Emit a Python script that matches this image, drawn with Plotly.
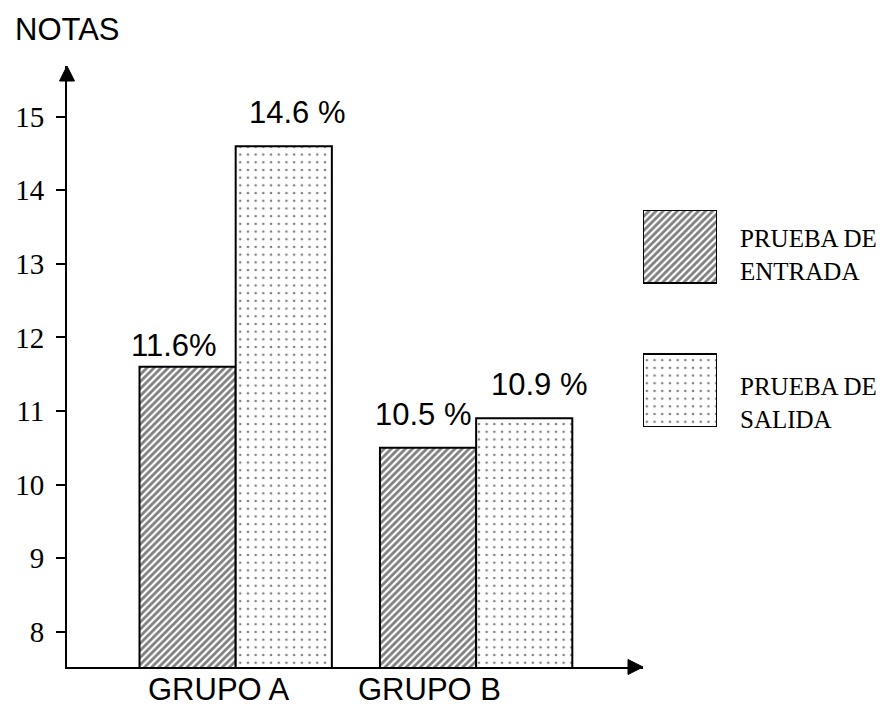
import plotly.graph_objects as go

# ---- data -------------------------------------------------------------
groups = ["GRUPO A", "GRUPO B"]
series_names = ["PRUEBA DE<br>ENTRADA", "PRUEBA DE<br>SALIDA"]
entrada = [11.6, 10.5]
salida = [14.6, 10.9]
value_labels_entrada = ["11.6%", "10.5 %"]
value_labels_salida = ["14.6 %", "10.9 %"]
y_ticks = [8, 9, 10, 11, 12, 13, 14, 15]

# ---- geometry / style ---------------------------------------------------
W, H = 887, 706
BAR_W = 0.4
Y_RANGE = [7.52, 15.69]
X_RANGE = [-0.7015, 1.694]
SANS = "Liberation Sans"
SERIF = "Liberation Serif"
HATCH = dict(shape="/", fgcolor="black", bgcolor="white", size=5, solidity=0.55)
DOTS = dict(shape=".", fgcolor="black", bgcolor="white", size=7.7, solidity=0.09)
OUTLINE = dict(color="black", width=2)

x_idx = list(range(len(groups)))

fig = go.Figure()

# main bars
fig.add_trace(go.Bar(x=x_idx, y=entrada, width=BAR_W, offset=-BAR_W,
                     marker=dict(color="white", pattern=HATCH, line=OUTLINE),
                     name=series_names[0], showlegend=False, hoverinfo="y"))
fig.add_trace(go.Bar(x=x_idx, y=salida, width=BAR_W, offset=0,
                     marker=dict(color="white", pattern=DOTS, line=OUTLINE),
                     name=series_names[1], showlegend=False, hoverinfo="y"))

# legend swatches drawn as bars on their own small axes
fig.add_trace(go.Bar(x=[1], y=[1], orientation="h", width=0.507, xaxis="x3", yaxis="y3",
                     marker=dict(color="white", pattern=HATCH, line=OUTLINE),
                     showlegend=False, hoverinfo="skip", cliponaxis=False))
fig.add_trace(go.Bar(x=[1], y=[0], orientation="h", width=0.507, xaxis="x3", yaxis="y3",
                     marker=dict(color="white", pattern=DOTS, line=OUTLINE),
                     showlegend=False, hoverinfo="skip", cliponaxis=False))

annotations = []

# value labels above the bars (small per-label nudges in px)
label_nudges_entrada = [(-14, 2), (-5, 14)]
label_nudges_salida = [(14, 14), (15, 14)]
for i in x_idx:
    for val, txt, off, (dx, dy) in (
        (entrada[i], value_labels_entrada[i], -BAR_W / 2, label_nudges_entrada[i]),
        (salida[i], value_labels_salida[i], BAR_W / 2, label_nudges_salida[i]),
    ):
        annotations.append(dict(x=i + off, y=val, xref="x", yref="y", text=txt,
                                showarrow=False, xanchor="center", yanchor="bottom",
                                xshift=dx, yshift=dy,
                                font=dict(family=SANS, size=31, color="black")))

# group names under the axis
group_shift = [-17, -47]
for i, g in enumerate(groups):
    annotations.append(dict(x=i, y=0, xref="x", yref="y domain", text=g,
                            showarrow=False, xanchor="center", yanchor="top",
                            xshift=group_shift[i], yshift=-3,
                            font=dict(family=SANS, size=31, color="black")))

# axis title
annotations.append(dict(x=13 / W, y=1 - 10 / H, xref="paper", yref="paper", text="NOTAS",
                        showarrow=False, xanchor="left", yanchor="top",
                        font=dict(family=SANS, size=31, color="black")))

# legend texts beside the swatches
legend_shift = [-8, -12]
for yv, name, dy in zip([1, 0], series_names, legend_shift):
    annotations.append(dict(x=738 / W, y=yv, xref="paper", yref="y3", text=name,
                            showarrow=False, xanchor="left", yanchor="middle",
                            align="left", yshift=dy,
                            font=dict(family=SERIF, size=25, color="black")))

# arrow heads at the ends of both axes
shapes = [
    dict(type="path", xref="x domain", yref="y domain", xsizemode="pixel", ysizemode="pixel",
         xanchor=1, yanchor=0, path="M 0,0 L -15,7.5 L -15,-7.5 Z",
         fillcolor="black", line=dict(color="black", width=1)),
    dict(type="path", xref="x domain", yref="y domain", xsizemode="pixel", ysizemode="pixel",
         xanchor=0, yanchor=1, path="M 0,0 L -7.5,-15 L 7.5,-15 Z",
         fillcolor="black", line=dict(color="black", width=1)),
]

fig.update_layout(
    width=W, height=H,
    margin=dict(l=0, r=0, t=0, b=0),
    paper_bgcolor="white", plot_bgcolor="white",
    barmode="overlay",
    xaxis=dict(domain=[67 / W, 643 / W], range=X_RANGE, showgrid=False, zeroline=False,
               showline=True, linecolor="black", linewidth=2, showticklabels=False,
               ticks=""),
    yaxis=dict(domain=[(H - 667) / H, (H - 66) / H], range=Y_RANGE, showgrid=False,
               zeroline=False, showline=True, linecolor="black", linewidth=2,
               tickmode="array", tickvals=y_ticks, ticks="outside", ticklen=9,
               tickwidth=1.5, tickcolor="black", ticklabelstandoff=6,
               tickfont=dict(family=SERIF, size=29, color="black")),
    yaxis2=dict(overlaying="y", side="left", range=Y_RANGE, showgrid=False, zeroline=False,
                showline=False, tickmode="array", tickvals=y_ticks, ticks="inside",
                ticklen=6, tickwidth=1.5, tickcolor="black", showticklabels=False),
    xaxis3=dict(domain=[643 / W, 717 / W], range=[0, 1], visible=False, anchor="y3"),
    yaxis3=dict(domain=[(H - 427) / H, (H - 210) / H], range=[-0.2535, 1.2535],
                visible=False, anchor="x3"),
    annotations=annotations,
    shapes=shapes,
)

fig.write_html("out.html")
